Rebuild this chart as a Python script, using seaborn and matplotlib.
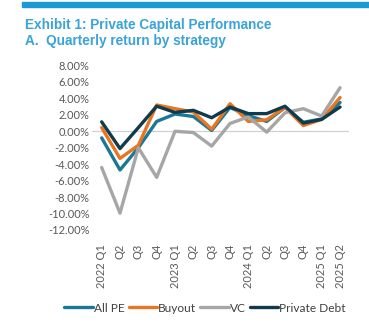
import matplotlib
matplotlib.use("Agg")
import matplotlib.pyplot as plt
import matplotlib.patches as mpatches
import seaborn as sns
import pandas as pd
from matplotlib.ticker import FuncFormatter

quarters = ["2022 Q1", "Q2", "Q3", "Q4", "2023 Q1", "Q2", "Q3", "Q4",
            "2024 Q1", "Q2", "Q3", "Q4", "2025 Q1", "2025 Q2"]

all_pe = [-0.8, -4.7, -2.0, 1.2, 2.1, 1.8, 0.1, 2.9, 1.9, 1.2, 2.9, 1.1, 1.5, 3.5]
buyout = [0.45, -3.3, -1.7, 3.2, 2.75, 2.35, 0.25, 3.35, 1.2, 1.4, 2.9, 0.7, 1.45, 4.1]
vc = [-4.4, -9.95, -2.0, -5.6, 0.0, -0.15, -1.8, 0.95, 1.75, -0.1, 2.25, 2.75, 1.85, 5.3]
private_debt = [1.15, -2.1, 0.45, 3.05, 2.3, 2.55, 1.65, 2.95, 2.15, 2.15, 3.05, 1.0, 1.45, 2.95]

series_names = ["All PE", "Buyout", "VC", "Private Debt"]
palette = {"All PE": "#1a7896", "Buyout": "#e8751f",
           "VC": "#a6a6a6", "Private Debt": "#0f3b4d"}

frames = []
for name, vals in zip(series_names, [all_pe, buyout, vc, private_debt]):
    frames.append(pd.DataFrame({"pos": range(len(quarters)), "value": vals, "series": name}))
df = pd.concat(frames, ignore_index=True)

sns.set_theme(style="white")
plt.rcParams["font.family"] = ["Lato", "DejaVu Sans"]

fig = plt.figure(figsize=(3.69, 3.24), dpi=100)
ax = fig.add_axes([92.5 / 369, 1 - 230 / 324, (349.2 - 92.5) / 369, (230 - 65.5) / 324])

ax.axhline(0, color="#d0d0d0", lw=0.9, zorder=0)
sns.lineplot(data=df, x="pos", y="value", hue="series", hue_order=series_names,
             palette=palette, linewidth=2.4, ax=ax, legend=False, sort=False)

ax.set_xlim(-0.5, len(quarters) - 0.5)
ax.set_ylim(-12, 8)
ax.set_yticks(range(-12, 9, 2))
ax.yaxis.set_major_formatter(FuncFormatter(lambda v, _: f"{v:.2f}%"))
ax.set_xticks(range(len(quarters)))
ax.set_xticklabels(quarters, rotation=90, va="top", ha="center")
ax.tick_params(axis="both", length=0, labelsize=8, colors="#595959", pad=2)
ax.tick_params(axis="x", pad=10)
ax.set_xlabel("")
ax.set_ylabel("")
for s in ax.spines.values():
    s.set_visible(False)

# Header band and titles
fig.patches.append(mpatches.Rectangle((22 / 369, 1 - 7 / 324), 1, 5 / 324,
                                      transform=fig.transFigure, color="#1b9ad6",
                                      zorder=0))
title_kw = dict(color="#3aa3d8", fontsize=9.8, fontweight="bold",
                family=["Liberation Sans", "DejaVu Sans"], ha="left", va="center")
fig.text(25 / 369, 1 - 25 / 324, "Exhibit 1: Private Capital Performance", **title_kw)
fig.text(25 / 369, 1 - 40.5 / 324, "A.  Quarterly return by strategy", **title_kw)

handles = [plt.Line2D([], [], color=palette[n], lw=2.4) for n in series_names]
fig.legend(handles, series_names, loc="center", bbox_to_anchor=(0.556, 1 - 308 / 324),
           ncol=4, frameon=False, fontsize=8.6, handlelength=2.4, handletextpad=0.1,
           columnspacing=0.3, labelcolor="#404040")

fig.savefig("out.png", dpi=100)
